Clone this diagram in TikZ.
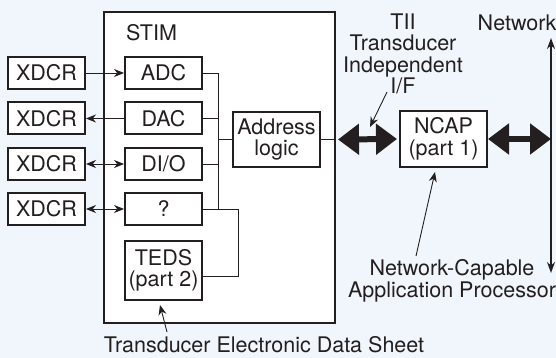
\documentclass[tikz,border=0pt]{standalone}
\usepackage{fontspec}
\setmainfont{TeX Gyre Heros}
\usetikzlibrary{arrows.meta,positioning}
\definecolor{bgpale}{RGB}{240,246,251}
\definecolor{ink}{RGB}{35,31,32}

\begin{document}
\begin{tikzpicture}[x=1pt, y=-1pt,
  every node/.style={font=\fontsize{21.5}{21.5}\selectfont, text=ink},
  blk/.style={draw=ink, line width=2pt, fill=white, minimum width=77pt, minimum height=32pt, inner sep=0pt, align=center},
  wire/.style={draw=ink, line width=0.9pt},
  tipline/.style={draw=ink, line width=0.9pt, -{Stealth[length=10pt,width=8pt]}},
  twoway/.style={draw=ink, line width=0.9pt, {Stealth[length=10pt,width=8pt]}-{Stealth[length=10pt,width=8pt]}},
  fat/.style={draw=ink, line width=6pt, {Triangle[length=21pt,width=30pt]}-{Triangle[length=21pt,width=30pt]}}]

  \useasboundingbox (0,0) rectangle (556,358);
  \fill[bgpale] (0,0) rectangle (556,358);

  % STIM module and its blocks
  \node[blk, minimum width=231pt, minimum height=311pt] (stim) at (219.5,167.5) {};
  \node[anchor=west, inner sep=0pt] (stimlbl) at (126,33) {STIM};
  \node[blk] (adc) at (163.5,73) {ADC};
  \node[blk] (dac) at (163.5,118.5) {DAC};
  \node[blk] (dio) at (163.5,164) {DI/O};
  \node[blk] (unk) at (163.5,209) {?};
  \node[blk, minimum height=59pt] (teds) at (163.5,270.5) {TEDS\\(part 2)};
  \node[blk, minimum width=87pt, minimum height=55pt] (addr) at (276.5,139.5) {Address\\logic};

  % transducers
  \foreach \n/\y in {a/73,b/118.5,c/164,d/209}
    \node[blk] (x\n) at (46.5,\y) {XDCR};
  \draw[tipline] (xa) -- (adc);
  \draw[tipline] (dac) -- (xb);
  \draw[twoway] (xc) -- (dio);
  \draw[twoway] (xd) -- (unk);

  % internal bus
  \coordinate (bus) at (218,0);
  \coordinate (bus2) at (238,0);
  \draw[wire] (adc.east) -- (adc.east -| bus) -- (unk.east -| bus);
  \draw[wire] (dac.east) -- (dac.east -| bus);
  \draw[wire] (dio.east) -- (dio.east -| bus);
  \draw[wire] (unk.east) -- (unk.east -| bus2) |- ([yshift=-6pt]teds.east);
  \draw[wire] (addr.west -| bus) -- (addr.west);
  \draw[wire] (addr.east) -- (addr.east -| stim.east);

  % NCAP and network
  \node[blk, minimum width=87pt, minimum height=56pt] (ncap) at (443.5,139) {NCAP\\(part 1)};
  \coordinate (nettop) at (551,38);
  \coordinate (netbot) at (551,273);
  \draw[fat] ([xshift=2pt]addr.east -| stim.east) -- ([xshift=-2pt]ncap.west);
  \draw[fat] (ncap.east) -- (ncap.east -| nettop);
  \draw[draw=ink, line width=1.3pt, {Stealth[length=11pt,width=8pt]}-{Stealth[length=11pt,width=8pt]}] (nettop) -- (netbot);

  % labels
  \node[align=center, inner sep=0pt] (tii) at (403,54) {TII\\Transducer\\Independent\\I/F};
  \node[inner sep=0pt] (netlbl) at (517,23) {Network};
  \node[align=center, inner sep=0pt] (ncaplbl) at (452,281) {Network-Capable\\Application Processor};
  \node[inner sep=0pt] (tedslbl) at (264,345) {Transducer Electronic Data Sheet};
  \coordinate (tiitip) at (370,127);
  \coordinate (ncaptip) at (435,172);
  \coordinate (tedstip) at (160,305);
  \draw[tipline] (387,92) -- (tiitip);
  \draw[tipline] (416,256) -- (ncaptip);
  \draw[tipline] (167,332) -- (tedstip);
\end{tikzpicture}
\end{document}
